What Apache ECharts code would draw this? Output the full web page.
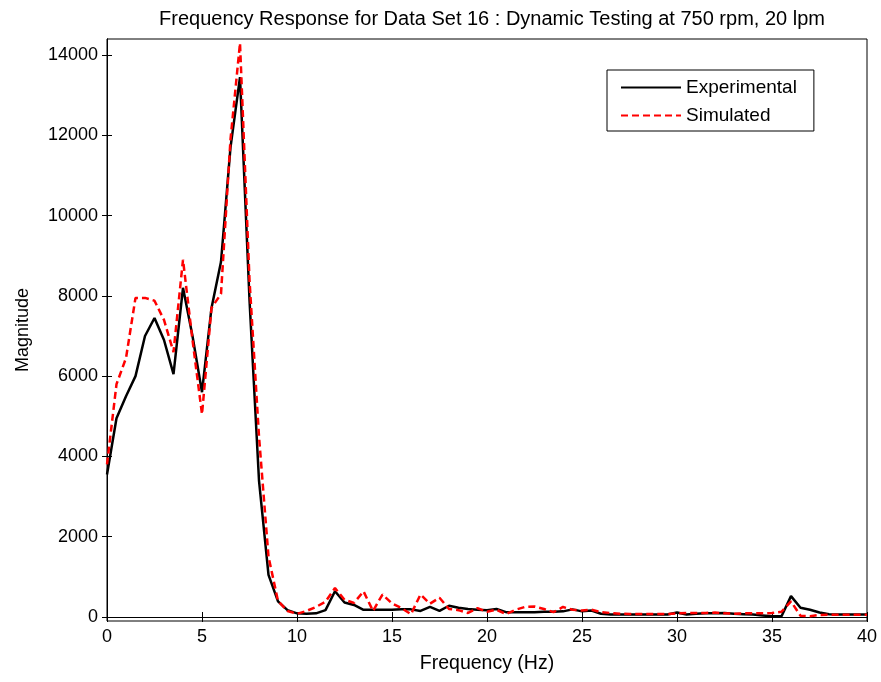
<!DOCTYPE html>
<html>
<head>
<meta charset="utf-8">
<script src="https://cdn.jsdelivr.net/npm/echarts@6/dist/echarts.min.js"></script>
<style>
html,body{margin:0;padding:0;background:#fff;}
#c{width:881px;height:682px;}
</style>
</head>
<body>
<div id="c"></div>
<script>
const titleText = 'Frequency Response for Data Set 16 : Dynamic Testing at 750 rpm, 20 lpm';
const freq = [0,0.5,1,1.5,2,2.5,3,3.5,4,4.5,5,5.5,6,6.5,7,7.5,8,8.5,9,9.5,
  10,10.5,11,11.5,12,12.5,13,13.5,14,14.5,15,15.5,16,16.5,17,17.5,18,18.5,19,19.5,
  20,20.5,21,21.5,22,22.5,23,23.5,24,24.5,25,25.5,26,26.5,27,27.5,28,28.5,29,29.5,
  30,30.5,31,31.5,32,32.5,33,33.5,34,34.5,35,35.5,36,36.5,37,37.5,38,38.5,39,39.5,40];
const experimental = [3550,4950,5500,6000,7000,7450,6900,6050,8200,7000,
  5600,7700,8850,11700,13450,7900,3400,1050,390,170,
  90,80,90,170,640,360,300,180,180,180,
  180,190,190,150,250,150,280,230,200,180,
  170,200,120,120,120,120,130,130,140,190,
  140,160,80,60,60,60,60,60,60,60,
  110,60,80,90,90,100,80,70,60,40,
  20,20,520,230,180,110,70,60,60,60,60];
const simulated = [3800,5800,6450,7950,7950,7880,7400,6600,8900,6900,
  5050,7700,8050,11900,14300,8400,4500,1500,400,150,
  80,150,250,380,720,430,350,640,150,560,
  340,220,70,560,330,480,200,170,100,220,
  130,180,70,180,250,260,200,120,250,180,
  160,180,120,100,80,75,75,75,75,75,
  90,100,100,100,110,90,80,90,90,90,
  100,130,390,30,20,50,57,57,57,57,57];
const xTicks = [0,5,10,15,20,25,30,35,40];
const yTicks = [0,2000,4000,6000,8000,10000,12000,14000];

const font = '"Liberation Sans", Arial, sans-serif';
const chart = echarts.init(document.getElementById('c'), null, {renderer:'canvas'});
const pair = (arr) => arr.map((v,i) => [freq[i], v]);
const axLine = {show:true, lineStyle:{color:'#000', width:1}};
const plain = (v) => String(v);
chart.setOption({
  animation:false,
  backgroundColor:'#fff',
  title:{text:titleText, left:487, top:4, textAlign:'center',
    textStyle:{fontFamily:font, fontSize:20, fontWeight:'normal', color:'#000'}},
  grid:{left:107, right:14, top:39, bottom:61, show:true, borderColor:'#000', borderWidth:1, containLabel:false},
  legend:{orient:'vertical', left:607, top:70, itemWidth:60, itemHeight:20, itemGap:9,
    padding:[8,17,6,13], borderColor:'#000', borderWidth:1, backgroundColor:'#fff',
    itemStyle:{opacity:0},
    textStyle:{fontFamily:font, fontSize:19, color:'#000'},
    data:['Experimental','Simulated']},
  xAxis:[
    {type:'value', min:0, max:40, interval:5, position:'bottom',
     name:'Frequency (Hz)', nameLocation:'middle', nameGap:33,
     nameTextStyle:{fontFamily:font, fontSize:19.5, color:'#000'},
     axisLine:axLine, axisTick:{show:true, inside:true, length:5, lineStyle:{color:'#000'}},
     axisLabel:{fontFamily:font, fontSize:18, color:'#000', margin:7, formatter:plain},
     splitLine:{show:false}},
    {type:'value', min:0, max:40, interval:5, position:'top',
     axisLine:axLine, axisTick:{show:true, inside:true, length:5, lineStyle:{color:'#000'}},
     axisLabel:{show:false}, splitLine:{show:false}}
  ],
  yAxis:[
    {type:'value', min:-100, max:14400, position:'left',
     name:'Magnitude', nameLocation:'middle', nameGap:75, nameRotate:90,
     nameTextStyle:{fontFamily:font, fontSize:18, color:'#000'},
     axisLine:axLine,
     axisTick:{show:true, inside:true, length:5, customValues:yTicks, lineStyle:{color:'#000'}},
     axisLabel:{fontFamily:font, fontSize:18, color:'#000', margin:9, customValues:yTicks, formatter:plain},
     splitLine:{show:false}},
    {type:'value', min:-100, max:14400, position:'right',
     axisLine:axLine,
     axisTick:{show:true, inside:true, length:5, customValues:yTicks, lineStyle:{color:'#000'}},
     axisLabel:{show:false, customValues:yTicks}, splitLine:{show:false}}
  ],
  series:[
    {name:'Experimental', type:'line', data:pair(experimental), symbol:'none',
     xAxisIndex:0, yAxisIndex:0,
     lineStyle:{color:'#000', width:2.5}, itemStyle:{color:'#000'}, z:2},
    {name:'Simulated', type:'line', data:pair(simulated), symbol:'none',
     xAxisIndex:0, yAxisIndex:0,
     lineStyle:{color:'#ff0000', width:2.5, type:[7,4]}, itemStyle:{color:'#ff0000'}, z:3}
  ]
});
</script>
</body>
</html>
